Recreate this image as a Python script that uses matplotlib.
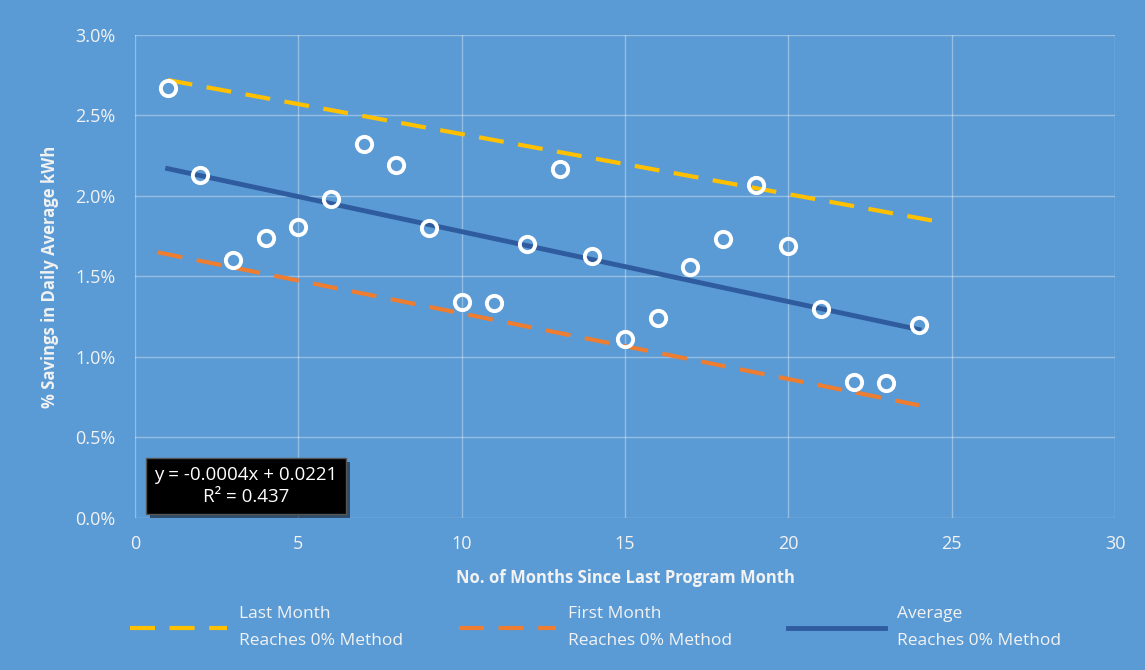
import matplotlib.pyplot as plt
import matplotlib.patheffects as pe
from matplotlib.ticker import FuncFormatter

plt.rcParams['font.family'] = ['Open Sans', 'DejaVu Sans']

# Monate seit letztem Programmmonat und Einsparungen in %
months = list(range(1, 25))
savings = [2.67, 2.13, 1.60, 1.74, 1.81, 1.98, 2.32, 2.19, 1.80, 1.34, 1.335, 1.70,
           2.17, 1.63, 1.11, 1.24, 1.56, 1.73, 2.07, 1.69, 1.30, 0.845, 0.84, 1.20]

# Linien (Anfang/Ende)
last_x = [1, 24.6]
last_y = [2.72, 1.84]
first_x = [0.7, 24.0]
first_y = [1.65, 0.70]
avg_x = [1, 24]
avg_y = [2.17, 1.17]

labels = ["Last Month\nReaches 0% Method",
          "First Month\nReaches 0% Method",
          "Average\nReaches 0% Method"]

bg = "#5B9BD5"
fg = "#F2F2F2"

fig = plt.figure(figsize=(11.45, 6.7), dpi=100, facecolor=bg)
ax = fig.add_axes([0.1179, 0.2269, 0.8559, 0.7209])
ax.set_facecolor(bg)

l1, = ax.plot(last_x, last_y, color="#FFC000", lw=3.0, dashes=(6, 3.5),
              dash_capstyle="butt", label=labels[0])
l2, = ax.plot(first_x, first_y, color="#ED7D31", lw=3.0, dashes=(6, 3.5),
              dash_capstyle="butt", label=labels[1])
l3, = ax.plot(avg_x, avg_y, color="#2F5C9E", lw=3.5, label=labels[2])
ax.plot(months, savings, linestyle="none", marker="o", ms=11, mfc="none",
        mec="white", mew=2.8, zorder=5)

ax.set_xlim(0, 30)
ax.set_ylim(0, 3.0)
ax.set_xticks(range(0, 31, 5))
ax.set_yticks([0, 0.5, 1.0, 1.5, 2.0, 2.5, 3.0])
ax.yaxis.set_major_formatter(FuncFormatter(lambda v, p: f"{v:.1f}%"))
ax.grid(True, color="white", alpha=0.35, lw=1)
for s in ax.spines.values():
    s.set_visible(False)
ax.tick_params(length=0, colors=fg, labelsize=13)
ax.tick_params(axis="x", pad=12)
ax.tick_params(axis="y", pad=14)

ax.set_xlabel("No. of Months Since Last Program Month", color=fg,
              fontsize=12, fontweight="bold", labelpad=12)
ax.set_ylabel("% Savings in Daily Average kWh", color=fg,
              fontsize=12, fontweight="bold", labelpad=12)

t = ax.text(3.4, 0.2, "y = -0.0004x + 0.0221\nR² = 0.437", ha="center",
            va="center", color="white", fontsize=13.5, linespacing=1.25,
            bbox=dict(boxstyle="square,pad=0.45", fc="black", ec="#555555"),
            zorder=6)
t.get_bbox_patch().set_path_effects([pe.withSimplePatchShadow(offset=(3, -3),
                                                             alpha=0.5)])

leg = fig.legend(handles=[l1, l2, l3], loc="center", ncol=3,
                 bbox_to_anchor=(0.52, 0.063), frameon=False, fontsize=12.5,
                 handlelength=5.6, handletextpad=0.7, columnspacing=3.2,
                 labelspacing=0.2)
for txt in leg.get_texts():
    txt.set_color(fg)
    txt.set_linespacing(1.95)

fig.savefig("out.png", dpi=100, facecolor=bg)
